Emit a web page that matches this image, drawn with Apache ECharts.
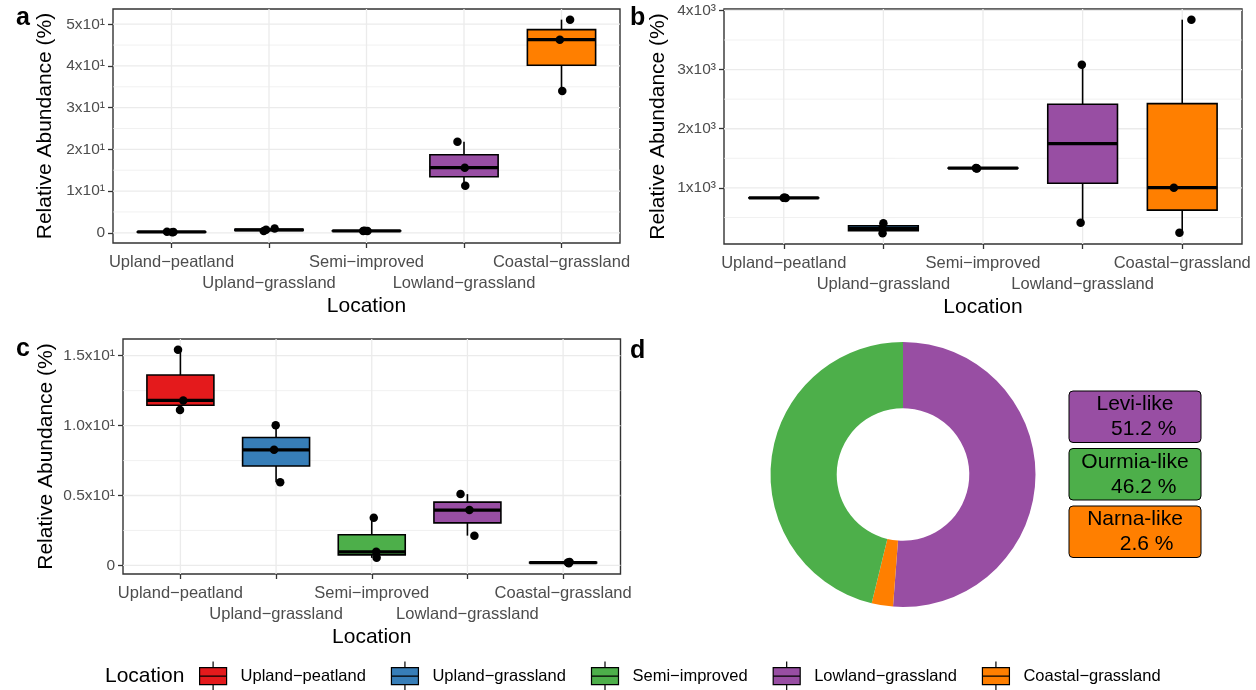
<!DOCTYPE html>
<html>
<head>
<meta charset="utf-8">
<title>Relative abundance by location</title>
<script src="https://cdn.jsdelivr.net/npm/echarts@6.0.0/dist/echarts.min.js"></script>
<style>
  html, body { margin: 0; padding: 0; background: #fff; }
  #chart { width: 1256px; height: 690px; }
</style>
</head>
<body>
<div id="chart"></div>
<script>
// ---- data ----------------------------------------------------------------
const locations = ['Upland\u2212peatland', 'Upland\u2212grassland', 'Semi\u2212improved', 'Lowland\u2212grassland', 'Coastal\u2212grassland'];
const locationColors = ['#E41A1C', '#377EB8', '#4DAF4A', '#984EA3', '#FF7F00'];

// panel a: per-sample relative abundance (%), one list per location
const abundanceA = [
  [0.25, 0.1, 0.2],
  [0.4, 1.0, 0.7],
  [0.45, 0.5, 0.4],
  [21.8, 15.6, 11.3],
  [51.1, 46.3, 34.0]
];
const jitterA = [
  [-0.046, 0.008, 0.02],
  [-0.054, 0.058, -0.03],
  [-0.034, -0.02, 0.01],
  [-0.067, 0.008, 0.013],
  [0.088, -0.017, 0.008]
];
const yTicksA = [0, 10, 20, 30, 40, 50];
const yTickLabelsA = ['0', '1x10\u00B9', '2x10\u00B9', '3x10\u00B9', '4x10\u00B9', '5x10\u00B9'];
const yMinorA = [5, 15, 25, 35, 45];

// panel b
const abundanceB = [
  [828, 832, 836],
  [402, 233, 318],
  [1333, 1330, 1336],
  [3081, 413],
  [3843, 1005, 244]
];
const jitterB = [
  [0.02, 0.0, 0.01],
  [0.0, -0.008, -0.01],
  [-0.068, -0.06, -0.07],
  [-0.008, -0.02],
  [0.092, -0.084, -0.028]
];
const yTicksB = [1000, 2000, 3000, 4000];
const yTickLabelsB = ['1x10\u00B3', '2x10\u00B3', '3x10\u00B3', '4x10\u00B3'];
const yMinorB = [500, 1500, 2500, 3500];

// panel c
const abundanceC = [
  [15.43, 11.8, 11.11],
  [10.02, 8.27, 5.95],
  [3.41, 0.97, 0.54],
  [5.1, 3.96, 2.13],
  [0.25, 0.15, 0.2]
];
const jitterC = [
  [-0.025, 0.03, -0.004],
  [-0.004, -0.021, 0.043],
  [0.021, 0.047, 0.051],
  [-0.072, 0.021, 0.073],
  [0.068, 0.06, 0.05]
];
const yTicksC = [0, 5, 10, 15];
const yTickLabelsC = ['0', '0.5x10\u00B9', '1.0x10\u00B9', '1.5x10\u00B9'];
const yMinorC = [2.5, 7.5, 12.5];

// panel d: share of reads per virus family
const virusNames = ['Levi-like', 'Narna-like', 'Ourmia-like'];
const virusShare = [51.2, 2.6, 46.2];
const virusColors = ['#984EA3', '#FF7F00', '#4DAF4A'];

// ---- helpers -------------------------------------------------------------
const FONT = 'Liberation Sans, Arial, Helvetica, sans-serif';

function quantile(sorted, p) {
  const h = (sorted.length - 1) * p;
  const lo = Math.floor(h), hi = Math.ceil(h);
  return sorted[lo] + (h - lo) * (sorted[hi] - sorted[lo]);
}
// five-number summary with 1.5 IQR whiskers
function boxStats(vals) {
  const s = vals.slice().sort((a, b) => a - b);
  const q1 = quantile(s, 0.25), med = quantile(s, 0.5), q3 = quantile(s, 0.75);
  const iqr = q3 - q1;
  const lo = Math.min(...s.filter(v => v >= q1 - 1.5 * iqr));
  const hi = Math.max(...s.filter(v => v <= q3 + 1.5 * iqr));
  return [lo, q1, med, q3, hi];
}
// data range padded by 5% on each side
function expandedRange(groups) {
  const all = groups.flat();
  const lo = Math.min(...all), hi = Math.max(...all);
  const pad = (hi - lo) * 0.05;
  return [lo - pad, hi + pad];
}

const BOX_WIDTH = 0.7;
const LINE = 1.6;

function gridLineRenderer(params, api) {
  const cs = params.coordSys;
  const kind = api.value(2);
  const pt = api.coord([api.value(0), api.value(1)]);
  const style = { stroke: '#EBEBEB', lineWidth: kind === 1 ? 0.7 : 1.3 };
  if (kind === 2) {
    return { type: 'line', shape: { x1: pt[0], y1: cs.y, x2: pt[0], y2: cs.y + cs.height }, style };
  }
  return { type: 'line', shape: { x1: cs.x, y1: pt[1], x2: cs.x + cs.width, y2: pt[1] }, style };
}

function boxRenderer(params, api) {
  const x = api.value(0);
  const lo = api.coord([x, api.value(1)]);
  const q1 = api.coord([x, api.value(2)]);
  const md = api.coord([x, api.value(3)]);
  const q3 = api.coord([x, api.value(4)]);
  const hi = api.coord([x, api.value(5)]);
  const half = api.size([BOX_WIDTH, 0])[0] / 2;
  const stroke = { stroke: '#000', lineWidth: LINE };
  return {
    type: 'group',
    children: [
      { type: 'line', shape: { x1: lo[0], y1: lo[1], x2: lo[0], y2: q1[1] }, style: stroke },
      { type: 'line', shape: { x1: hi[0], y1: hi[1], x2: hi[0], y2: q3[1] }, style: stroke },
      { type: 'rect', shape: { x: q1[0] - half, y: q3[1], width: 2 * half, height: q1[1] - q3[1] },
        style: { fill: api.visual('color'), stroke: '#000', lineWidth: LINE } },
      { type: 'line', shape: { x1: md[0] - half, y1: md[1], x2: md[0] + half, y2: md[1] },
        style: { stroke: '#000', lineWidth: LINE * 2 } }
    ]
  };
}

// ---- layout of the three box-plot panels --------------------------------
const panels = [
  { vals: abundanceA, jitter: jitterA, ticks: yTicksA, tickLabels: yTickLabelsA, minor: yMinorA,
    grid: { left: 113, top: 9, width: 507, height: 234 }, yNameGap: 57 },
  { vals: abundanceB, jitter: jitterB, ticks: yTicksB, tickLabels: yTickLabelsB, minor: yMinorB,
    grid: { left: 724, top: 9, width: 518, height: 235 }, yNameGap: 55 },
  { vals: abundanceC, jitter: jitterC, ticks: yTicksC, tickLabels: yTickLabelsC, minor: yMinorC,
    grid: { left: 123, top: 339, width: 497.5, height: 235 }, yNameGap: 66 }
];

const catIndex = locations.map((_, i) => i);
// location labels alternate between two rows so they do not collide
const upperRow = catIndex.filter(i => i % 2 === 0);
const lowerRow = catIndex.filter(i => i % 2 === 1);

const labelStyle = { color: '#4D4D4D', fontSize: 16.5, fontFamily: FONT };

const option = {
  animation: false,
  backgroundColor: '#ffffff',
  textStyle: { fontFamily: FONT },
  grid: [],
  xAxis: [],
  yAxis: [],
  series: [],
  legend: {
    data: locations,
    left: 199,
    top: 661,
    padding: 0,
    itemWidth: 27,
    itemHeight: 29,
    itemGap: 25,
    icon: 'path://M13.5,0V6M0,6H27V23H0ZM0,14.5H27M13.5,23V29',
    selectedMode: false,
    itemStyle: { borderColor: '#000', borderWidth: 1.2 },
    textStyle: { fontSize: 16.5, color: '#000', fontFamily: FONT, padding: [0, 0, 0, 9] }
  },
  graphic: []
};

panels.forEach((p, gi) => {
  const [yMin, yMax] = expandedRange(p.vals);
  const xIdx = option.xAxis.length;
  option.grid.push(Object.assign({ show: true, borderColor: '#333333', borderWidth: 1.4, backgroundColor: 'transparent' }, p.grid));
  // main x axis: ticks, upper row of labels and the axis title
  option.xAxis.push({
    type: 'value', gridIndex: gi, position: 'bottom', min: -0.6, max: 4.6,
    name: 'Location', nameLocation: 'middle', nameGap: 53,
    nameTextStyle: { fontSize: 21, color: '#000', fontFamily: FONT },
    axisLine: { show: false, onZero: false },
    splitLine: { show: false },
    axisTick: { show: true, customValues: catIndex, length: 5, lineStyle: { color: '#333333', width: 1.3 } },
    axisLabel: Object.assign({
      customValues: upperRow, showMinLabel: true, showMaxLabel: true, hideOverlap: false,
      formatter: v => locations[Math.round(v)], margin: 11
    }, labelStyle)
  });
  // companion x axis carrying the lower row of labels
  option.xAxis.push({
    type: 'value', gridIndex: gi, position: 'bottom', offset: 0, min: -0.6, max: 4.6,
    axisLine: { show: false, onZero: false },
    splitLine: { show: false },
    axisTick: { show: false },
    axisLabel: Object.assign({
      customValues: lowerRow, showMinLabel: true, showMaxLabel: true, hideOverlap: false,
      formatter: v => locations[Math.round(v)], margin: 32
    }, labelStyle)
  });
  option.yAxis.push({
    type: 'value', gridIndex: gi, min: yMin, max: yMax,
    name: 'Relative Abundance (%)', nameLocation: 'middle', nameRotate: 90, nameGap: p.yNameGap,
    nameTextStyle: { fontSize: 21, color: '#000', fontFamily: FONT },
    axisLine: { show: false, onZero: false },
    splitLine: { show: false },
    axisTick: { show: true, customValues: p.ticks, length: 5, lineStyle: { color: '#333333', width: 1.3 } },
    axisLabel: {
      customValues: p.ticks,
      showMinLabel: true,
      showMaxLabel: true,
      formatter: v => p.tickLabels[p.ticks.indexOf(v)],
      color: '#4D4D4D', fontSize: 15.5, margin: 8, fontFamily: FONT
    }
  });

  // background grid: major and minor horizontal lines, one vertical line per location
  const gridLines = []
    .concat(p.ticks.map(v => [-0.6, v, 0]))
    .concat(p.minor.map(v => [-0.6, v, 1]))
    .concat(catIndex.map(i => [i, yMin, 2]));
  option.series.push({
    type: 'custom', xAxisIndex: xIdx, yAxisIndex: gi, z: 1, silent: true,
    data: gridLines, renderItem: gridLineRenderer
  });

  // one box per location
  locations.forEach((loc, li) => {
    option.series.push({
      type: 'custom', name: loc, xAxisIndex: xIdx, yAxisIndex: gi, z: 2, silent: true,
      itemStyle: { color: locationColors[li] },
      data: [[li].concat(boxStats(p.vals[li]))],
      renderItem: boxRenderer
    });
  });

  // individual samples
  const pts = [];
  p.vals.forEach((g, li) => g.forEach((v, k) => pts.push([li + p.jitter[li][k], v])));
  option.series.push({
    type: 'scatter', xAxisIndex: xIdx, yAxisIndex: gi, z: 3, silent: true,
    symbolSize: 8.5, itemStyle: { color: '#000', opacity: 1 }, data: pts
  });
});

// panel d: donut of virus families
option.series.push({
  type: 'pie',
  center: [903, 474.5],
  radius: [66.3, 132.5],
  startAngle: 90,
  clockwise: true,
  silent: true,
  label: { show: false },
  labelLine: { show: false },
  itemStyle: { borderWidth: 0 },
  data: virusNames.map((n, i) => ({ name: n, value: virusShare[i], itemStyle: { color: virusColors[i] } }))
});

// labels of the donut, largest share first
const byShare = virusNames.map((_, i) => i).sort((p, q) => virusShare[q] - virusShare[p]);
byShare.forEach((idx, k) => {
  option.graphic.push({
    type: 'group', x: 1069, y: 391 + k * 57.5,
    children: [
      { type: 'rect', shape: { x: 0, y: 0, width: 132, height: 51.5, r: 4 },
        style: { fill: virusColors[idx], stroke: '#000', lineWidth: 1 } },
      { type: 'text', x: 66, y: 26,
        style: {
          text: virusNames[idx] + '\n   ' + virusShare[idx].toFixed(1).padStart(4, ' ') + ' %',
          fontSize: 21, fontFamily: FONT, fill: '#000',
          align: 'center', verticalAlign: 'middle', lineHeight: 25
        } }
    ]
  });
});

// panel tags and legend title
[['a', 16, 18.5], ['b', 630, 18.5], ['c', 16, 348.7], ['d', 630, 350.7]].forEach(([t, x, y]) => {
  option.graphic.push({
    type: 'text', x: x, y: y,
    style: { text: t, fontSize: 25, fontWeight: 'bold', fontFamily: FONT, fill: '#000', align: 'left', verticalAlign: 'middle' }
  });
});
option.graphic.push({
  type: 'text', x: 105, y: 676,
  style: { text: 'Location', fontSize: 21, fontFamily: FONT, fill: '#000', align: 'left', verticalAlign: 'middle' }
});

const chart = echarts.init(document.getElementById('chart'), null, { renderer: 'canvas' });
chart.setOption(option);
</script>
</body>
</html>
